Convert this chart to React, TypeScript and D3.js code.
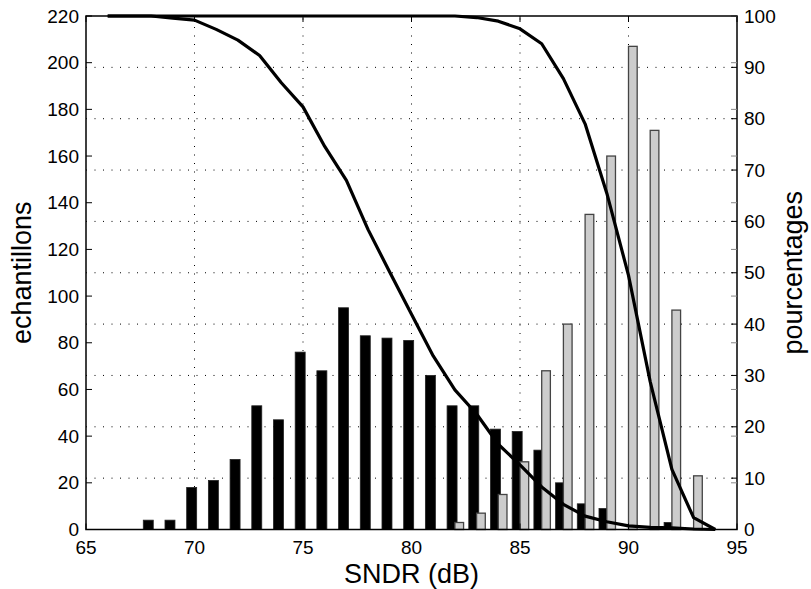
import React from "react";
import * as d3 from "d3";

const binCenters = [68, 69, 70, 71, 72, 73, 74, 75, 76, 77, 78, 79, 80, 81, 82, 83, 84, 85, 86, 87, 88, 89, 90, 91, 92, 93];
const blackCounts = [4, 4, 18, 21, 30, 53, 47, 76, 68, 95, 83, 82, 81, 66, 53, 53, 43, 42, 34, 20, 11, 9, 0, 0, 3, 0];
const grayCounts = [0, 0, 0, 0, 0, 0, 0, 0, 0, 0, 0, 0, 0, 0, 3, 7, 15, 29, 68, 88, 135, 160, 207, 171, 94, 23];

const curveX = [66, 67, 68, 69, 70, 71, 72, 73, 74, 75, 76, 77, 78, 79, 80, 81, 82, 83, 84, 85, 86, 87, 88, 89, 90, 91, 92, 93, 94];
const curveBlack = [100, 100, 100, 99.6, 99.2, 97.4, 95.3, 92.3, 87.0, 82.3, 74.6, 68.0, 58.4, 50.1, 41.9, 33.8, 27.2, 22.5, 16.6, 12.6, 8.3, 4.9, 2.6, 1.5, 0.7, 0.4, 0.3, 0.1, 0];
const curveGray = [100, 100, 100, 100, 100, 100, 100, 100, 100, 100, 100, 100, 100, 100, 100, 100, 100, 99.7, 99.0, 97.5, 94.6, 87.8, 79.0, 65.5, 49.5, 28.8, 11.7, 2.3, 0];

const xTicks = [65, 70, 75, 80, 85, 90, 95];
const leftTicks = [0, 20, 40, 60, 80, 100, 120, 140, 160, 180, 200, 220];
const rightTicks = [0, 10, 20, 30, 40, 50, 60, 70, 80, 90, 100];

const W = 811, H = 589;
const L = 86, R = 737, T = 16, B = 529.5;
const FONT = "'Liberation Sans', Arial, Helvetica, sans-serif";

export default function App() {
  const x = d3.scaleLinear().domain([65, 95]).range([L, R]);
  const yL = d3.scaleLinear().domain([0, 220]).range([B, T]);
  const yR = d3.scaleLinear().domain([0, 100]).range([B, T]);
  const line = d3.line<number>().x((_, i) => x(curveX[i])).y((d) => yR(d));

  const bw1 = x(0.46) - x(0);
  const bw2 = x(0.40) - x(0);
  const tick = 6;

  return (
    <svg width={W} height={H} style={{ position: "absolute", left: 0, top: 0, background: "#fff" }}>
      <rect x={0} y={0} width={W} height={H} fill="#fff" />
      {/* grid */}
      <g stroke="#000" strokeWidth={1} strokeDasharray="1 7.5">
        {xTicks.filter((t) => t > 65 && t < 95).map((t) => (
          <line key={"gx" + t} x1={x(t)} x2={x(t)} y1={B} y2={T} />
        ))}
        {rightTicks.filter((t) => t > 0 && t < 100).map((t) => (
          <line key={"gy" + t} x1={L} x2={R} y1={yR(t)} y2={yR(t)} />
        ))}
      </g>
      {/* bars */}
      <g>
        {binCenters.map((c, i) =>
          blackCounts[i] > 0 ? (
            <rect key={"b" + c} x={x(c - 0.13) - bw1 / 2} y={yL(blackCounts[i])} width={bw1} height={B - yL(blackCounts[i])} fill="#000" stroke="#222" strokeWidth={0.8} />
          ) : null
        )}
        {binCenters.map((c, i) =>
          grayCounts[i] > 0 ? (
            <rect key={"g" + c} x={x(c + 0.2) - bw2 / 2} y={yL(grayCounts[i])} width={bw2} height={B - yL(grayCounts[i])} fill="#cccccc" stroke="#444" strokeWidth={1.3} />
          ) : null
        )}
      </g>
      {/* curves */}
      <path d={line(curveBlack) || ""} fill="none" stroke="#000" strokeWidth={3.2} strokeLinejoin="round" />
      <path d={line(curveGray) || ""} fill="none" stroke="#000" strokeWidth={3.2} strokeLinejoin="round" />
      {/* frame */}
      <rect x={L} y={T} width={R - L} height={B - T} fill="none" stroke="#000" strokeWidth={1.5} />
      {/* ticks */}
      <g stroke="#000" strokeWidth={1}>
        {xTicks.map((t) => (
          <g key={"xt" + t}>
            <line x1={x(t)} x2={x(t)} y1={B} y2={B - tick} />
            <line x1={x(t)} x2={x(t)} y1={T} y2={T + tick} />
          </g>
        ))}
        {leftTicks.map((t) => (
          <g key={"lt" + t}>
            <line x1={L} x2={L + tick} y1={yL(t)} y2={yL(t)} />
            <line x1={R} x2={R - tick} y1={yL(t)} y2={yL(t)} stroke="#888" />
          </g>
        ))}
        {rightTicks.map((t) => (
          <line key={"rt" + t} x1={R} x2={R - tick} y1={yR(t)} y2={yR(t)} />
        ))}
      </g>
      {/* tick labels */}
      <g fontFamily={FONT} fontSize={19} fill="#000">
        {xTicks.map((t) => (
          <text key={"xl" + t} x={x(t)} y={B + 24} textAnchor="middle">{t}</text>
        ))}
        {leftTicks.map((t) => (
          <text key={"ll" + t} x={L - 7} y={yL(t)} dy="0.35em" textAnchor="end">{t}</text>
        ))}
        {rightTicks.map((t) => (
          <text key={"rl" + t} x={R + 7} y={yR(t)} dy="0.35em" textAnchor="start">{t}</text>
        ))}
      </g>
      {/* axis labels */}
      <g fontFamily={FONT} fontSize={27} fill="#000">
        <text x={(L + R) / 2 + 0} y={583} textAnchor="middle">SNDR (dB)</text>
        <text transform={`translate(31, ${(T + B) / 2}) rotate(-90)`} textAnchor="middle">echantillons</text>
        <text transform={`translate(802, ${(T + B) / 2}) rotate(-90)`} textAnchor="middle">pourcentages</text>
      </g>
    </svg>
  );
}
